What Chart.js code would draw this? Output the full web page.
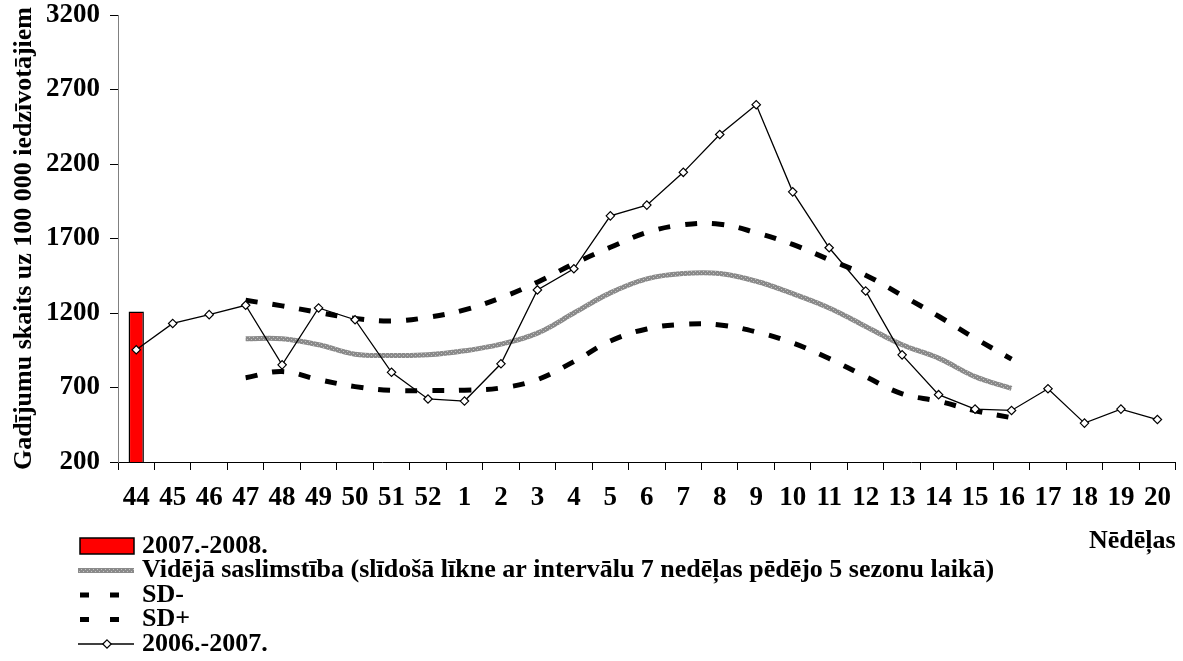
<!DOCTYPE html>
<html>
<head>
<meta charset="utf-8">
<script src="https://cdn.jsdelivr.net/npm/chart.js@4.4.1/dist/chart.umd.min.js"></script>
<style>
  html, body { margin: 0; padding: 0; background: #fff; }
  .chart-box { position: relative; width: 1183px; height: 661px; }
</style>
</head>
<body>
<div class="chart-box"><canvas id="chart"></canvas></div>
<script>
// week numbers on the x axis
const weeks = ['44', '45', '46', '47', '48', '49', '50', '51', '52',
  '1', '2', '3', '4', '5', '6', '7', '8', '9', '10',
  '11', '12', '13', '14', '15', '16', '17', '18', '19', '20'];

// 2007.-2008. season (only week 44 so far)
const season0708 = [1210, null, null, null, null, null, null, null, null,
  null, null, null, null, null, null, null, null, null, null,
  null, null, null, null, null, null, null, null, null, null];

// moving average, weeks 47..16
const meanRate = [null, null, null, 1027, 1027, 987, 923, 915, 919,
  946, 991, 1065, 1200, 1335, 1429, 1465, 1465, 1413, 1330,
  1234, 1110, 987, 897, 773, 694, null, null, null, null];

const sdMinus = [null, null, null, 766, 807, 753, 706, 681, 679,
  682, 697, 753, 874, 1012, 1093, 1124, 1120, 1073, 999,
  894, 773, 658, 608, 544, 497, null, null, null, null];

const sdPlus = [null, null, null, 1285, 1248, 1204, 1164, 1146, 1171,
  1221, 1302, 1407, 1531, 1641, 1740, 1792, 1796, 1739, 1660,
  1558, 1454, 1318, 1178, 1030, 890, null, null, null, null];

// 2006.-2007. season
const season0607 = [953, 1130, 1189, 1252, 852, 1234, 1155, 802, 623,
  609, 859, 1355, 1497, 1852, 1924, 2144, 2398, 2598, 2013,
  1638, 1348, 919, 652, 555, 546, 692, 461, 555, 485];

const yTicks = { min: 200, max: 3200, step: 500 };

const FONT = "'Liberation Serif', 'Times New Roman', serif";

const canvas = document.getElementById('chart');
const ctx = canvas.getContext('2d');

// speckled grey like the excel pattern line
const pc = document.createElement('canvas');
pc.width = 4; pc.height = 4;
const pctx = pc.getContext('2d');
pctx.fillStyle = '#8a8a8a';
pctx.fillRect(0, 0, 4, 4);
pctx.fillStyle = '#c4c4c4';
pctx.fillRect(1, 1, 1, 1);
pctx.fillRect(3, 3, 1, 1);
const greyPattern = ctx.createPattern(pc, 'repeat');

// legend stacked in rows under the plot, like the original
const rowsLegend = {
  id: 'rowsLegend',
  afterDraw(chart) {
    const c = chart.ctx;
    const x0 = 80, x1 = 134, textX = 142;
    c.save();
    c.font = 'bold 26px ' + FONT;
    c.textBaseline = 'middle';
    chart.data.datasets.forEach((ds, i) => {
      const y = 546 + i * 24.5;
      if (ds.type === 'bar') {
        c.fillStyle = ds.backgroundColor;
        c.fillRect(x0, y - 8, x1 - x0, 16);
        c.lineWidth = 1.5;
        c.strokeStyle = ds.borderColor;
        c.strokeRect(x0, y - 8, x1 - x0, 16);
      } else if (ds.borderDash) {
        c.beginPath();
        c.setLineDash([9, 21]);
        c.lineWidth = ds.borderWidth;
        c.strokeStyle = ds.borderColor;
        c.moveTo(x0, y);
        c.lineTo(x1 - 14, y);
        c.stroke();
        c.setLineDash([]);
      } else {
        c.beginPath();
        c.lineWidth = ds.borderWidth;
        c.strokeStyle = ds.borderColor;
        c.moveTo(x0 - 2, y);
        c.lineTo(x1, y);
        c.stroke();
        if (ds.pointRadius > 0) {
          const mx = (x0 + x1) / 2, r = ds.pointRadius;
          c.beginPath();
          c.moveTo(mx, y - r); c.lineTo(mx + r, y); c.lineTo(mx, y + r); c.lineTo(mx - r, y);
          c.closePath();
          c.fillStyle = '#fff';
          c.fill();
          c.lineWidth = 1.2;
          c.strokeStyle = '#000';
          c.stroke();
        }
      }
      c.fillStyle = '#000';
      c.fillText(ds.label, textX, y);
    });
    c.restore();
  }
};

new Chart(ctx, {
  data: {
    labels: weeks,
    datasets: [
      {
        type: 'bar',
        label: '2007.-2008.',
        data: season0708,
        backgroundColor: '#ff0000',
        borderColor: '#000',
        borderWidth: 1.5,
        barPercentage: 0.42,
        categoryPercentage: 1,
        order: 1
      },
      {
        type: 'line',
        label: 'Vidējā saslimstība (slīdošā līkne ar intervālu 7 nedēļas pēdējo 5 sezonu laikā)',
        data: meanRate,
        borderColor: greyPattern,
        borderWidth: 5,
        pointRadius: 0,
        tension: 0.4,
        order: 4
      },
      {
        type: 'line',
        label: 'SD-',
        data: sdMinus,
        borderColor: '#000',
        borderWidth: 5,
        borderDash: [12, 15],
        pointRadius: 0,
        tension: 0.4,
        order: 3
      },
      {
        type: 'line',
        label: 'SD+',
        data: sdPlus,
        borderColor: '#000',
        borderWidth: 5,
        borderDash: [12, 15],
        pointRadius: 0,
        tension: 0.4,
        order: 2
      },
      {
        type: 'line',
        label: '2006.-2007.',
        data: season0607,
        borderColor: '#000',
        borderWidth: 1.3,
        pointStyle: 'rectRot',
        pointRadius: 4.2,
        pointBackgroundColor: '#fff',
        pointBorderColor: '#000',
        pointBorderWidth: 1.2,
        tension: 0,
        order: 0
      }
    ]
  },
  options: {
    responsive: true,
    maintainAspectRatio: false,
    animation: false,
    layout: { padding: { top: 0, right: 5, left: 0, bottom: 0 } },
    plugins: {
      legend: { display: false },
      tooltip: { enabled: false }
    },
    scales: {
      x: {
        offset: true,
        afterFit: (scale) => { scale.height = 199; },
        grid: { offset: true, drawOnChartArea: false, tickLength: 8, color: '#000' },
        border: { color: '#000', width: 1 },
        ticks: {
          color: '#000',
          padding: 12,
          maxRotation: 0,
          autoSkip: false,
          font: { family: FONT, size: 27, weight: 'bold' }
        },
        title: {
          display: true,
          text: 'Nēdēļas',
          align: 'end',
          color: '#000',
          padding: { top: 4, bottom: 104 },
          font: { family: FONT, size: 26, weight: 'bold' }
        }
      },
      y: {
        min: yTicks.min,
        max: yTicks.max,
        afterFit: (scale) => {
          scale.width = 118;
          scale.paddingTop = 15;
          scale.paddingBottom = 0;
        },
        grid: { drawOnChartArea: false, tickLength: 8, color: '#000' },
        border: { color: '#808080', width: 1 },
        ticks: {
          stepSize: yTicks.step,
          color: '#000',
          padding: 10,
          callback: (v) => String(v),
          font: { family: FONT, size: 27, weight: 'bold' }
        },
        title: {
          display: true,
          text: 'Gadījumu skaits uz 100 000 iedzīvotājiem',
          color: '#000',
          padding: { top: 9, bottom: 0 },
          font: { family: FONT, size: 26, weight: 'bold' }
        }
      }
    }
  },
  plugins: [rowsLegend]
});
</script>
</body>
</html>
